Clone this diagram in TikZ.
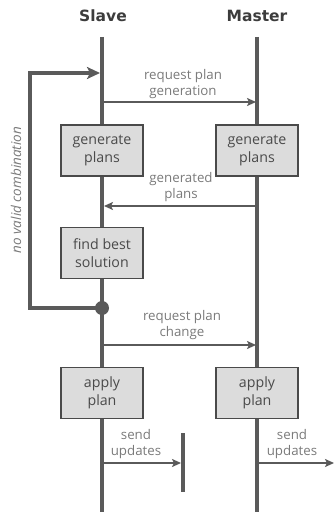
\documentclass[tikz,border=0pt]{standalone}
\usepackage{fontspec}
\setmainfont{Open Sans}
\newfontfamily\titlefont{DejaVu Sans}
\usetikzlibrary{arrows.meta}
\definecolor{lifegray}{HTML}{5A5A5A}
\definecolor{boxfill}{HTML}{DCDCDC}
\definecolor{boxline}{HTML}{4A4A4A}
\definecolor{labelgray}{HTML}{7A7A7A}
\definecolor{titlegray}{HTML}{3C3C3C}
\tikzset{
  lifeline/.style={draw=lifegray, line width=3.5pt},
  stepbox/.style={draw=boxline, fill=boxfill, line width=1.6pt, minimum width=82pt, minimum height=51pt, inner sep=0pt, align=center, text=boxline, font=\fontsize{14.2}{18}\selectfont},
  msg/.style={draw=lifegray, line width=2.2pt, -{Stealth[length=9pt,width=8pt,inset=2pt]}},
  msglabel/.style={text=labelgray, align=center, inner sep=0pt, font=\fontsize{13.3}{16.5}\selectfont},
  title/.style={text=titlegray, font=\titlefont\bfseries\fontsize{15.5}{18}\selectfont, inner sep=0pt},
  loopline/.style={draw=lifegray, line width=3.5pt},
}
\begin{document}
\begin{tikzpicture}[x=1pt,y=-1pt]
\useasboundingbox (0,0) rectangle (334,516);
% titles
\node[title] (tslave) at (103,16) {Slave};
\node[title] (tmaster) at (257,16) {Master};
% lifeline ends
\coordinate (s0) at (102,37);
\coordinate (s1) at (102,512);
\coordinate (m0) at (257,37);
\coordinate (m1) at (257,512);
\draw[lifeline] (s0) -- (s1);
\draw[lifeline] (m0) -- (m1);
% boxes
\node[stepbox] (sgen) at (102,150.5) {generate\\plans};
\node[stepbox] (mgen) at (257,150.5) {generate\\plans};
\node[stepbox] (sfind) at (102,253) {find best\\solution};
\node[stepbox] (sapply) at (102,393) {apply\\plan};
\node[stepbox] (mapply) at (257,393) {apply\\plan};
% loop
\coordinate (lt) at (30,73);
\coordinate (lb) at (30,308);
\coordinate (ltip) at (100,73);
\node[circle, fill=lifegray, minimum size=14pt, inner sep=0pt] (dot) at (102,308) {};
\draw[loopline, -{Stealth[length=13pt,width=12pt,inset=3pt]}] (dot.center) -- (lb) -- (lt) -- (ltip);
\node[text=labelgray, rotate=90, inner sep=0pt, font=\itshape\fontsize{13.5}{16}\selectfont] (nvc) at (16,190) {no valid combination};
% messages
\coordinate (a1s) at (104,102);
\coordinate (a1m) at (256,102);
\draw[msg] (a1s) -- (a1m);
\node[msglabel] (l1) at (183,84) {request plan\\generation};
\coordinate (a2m) at (256,206);
\coordinate (a2s) at (104,206);
\draw[msg] (a2m) -- (a2s);
\node[msglabel] (l2) at (181,187) {generated\\plans};
\coordinate (a3s) at (104,345);
\coordinate (a3m) at (256,345);
\draw[msg] (a3s) -- (a3m);
\node[msglabel] (l3) at (182,325) {request plan\\change};
% send updates
\coordinate (bt) at (183,433);
\coordinate (bb) at (183,492);
\draw[lifeline] (bt) -- (bb);
\coordinate (a4s) at (104,463);
\coordinate (a4e) at (181,463);
\draw[msg] (a4s) -- (a4e);
\node[msglabel] (l4) at (136,444) {send\\updates};
\coordinate (a5s) at (259,463);
\coordinate (a5e) at (334,463);
\draw[msg] (a5s) -- (a5e);
\node[msglabel] (l5) at (292,444) {send\\updates};
\end{tikzpicture}
\end{document}
